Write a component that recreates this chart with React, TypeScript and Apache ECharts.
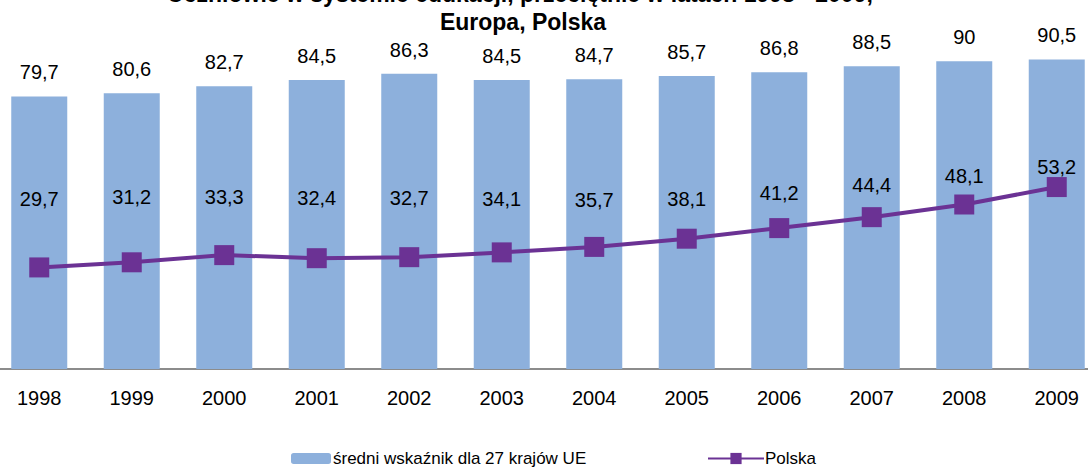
import React, { useEffect, useRef } from "react";
import * as echarts from "echarts";

const years = ["1998", "1999", "2000", "2001", "2002", "2003", "2004", "2005", "2006", "2007", "2008", "2009"];
const euValues = [79.7, 80.6, 82.7, 84.5, 86.3, 84.5, 84.7, 85.7, 86.8, 88.5, 90, 90.5];
const plValues = [29.7, 31.2, 33.3, 32.4, 32.7, 34.1, 35.7, 38.1, 41.2, 44.4, 48.1, 53.2];
const plLabelDistance = [48, 45, 38, 40, 39, 33, 27, 20, 15, 12, 8, 0];
const titleLines = ["Uczniowie w systemie edukacji, przeciętnie w latach 1998 - 2009,", "Europa, Polska"];

const FONT = "'Liberation Sans', Arial, sans-serif";
const fmt = (v: number) => String(v).replace(".", ",");
const OFFSET = 7;

export default function App() {
  const ref = useRef<HTMLDivElement>(null);
  useEffect(() => {
    document.body.style.margin = "0";
    document.body.style.overflow = "hidden";
    const chart = echarts.init(ref.current!, null, { renderer: "svg" });
    chart.setOption({
      animation: false,
      graphic: [
        {
          type: "text",
          x: 520 + OFFSET,
          y: -6,
          style: {
            text: titleLines[0],
            font: "bold 23px 'Liberation Sans', Arial, sans-serif",
            fill: "#000",
            textAlign: "center",
            textVerticalAlign: "middle",
          },
        },
        {
          type: "text",
          x: 523 + OFFSET,
          y: 22,
          style: {
            text: titleLines[1],
            font: "bold 23px 'Liberation Sans', Arial, sans-serif",
            fill: "#000",
            textAlign: "center",
            textVerticalAlign: "middle",
          },
        },
      ],
      legend: [
        {
          data: ["średni wskaźnik dla 27 krajów UE"],
          left: 291 + OFFSET - 5,
          top: 445,
          itemWidth: 40,
          itemHeight: 11,
          itemGap: 4,
          textStyle: { fontFamily: FONT, fontSize: 17, color: "#000", padding: [0, 0, 0, -3] },
        },
        {
          data: ["Polska"],
          left: 707 + OFFSET - 5,
          top: 445,
          itemWidth: 56,
          itemHeight: 14,
          textStyle: { fontFamily: FONT, fontSize: 17, color: "#000", padding: [0, 0, 0, -4] },
        },
      ],
      grid: { left: 0, right: 0, top: 27, bottom: 99 },
      xAxis: {
        type: "category",
        data: years,
        axisTick: { show: false },
        axisLine: { lineStyle: { color: "#8c8c8c", width: 2 } },
        axisLabel: { fontFamily: FONT, fontSize: 20, color: "#000", margin: 19 },
      },
      yAxis: { type: "value", min: 0, max: 100, show: false, splitLine: { show: false } },
      series: [
        {
          name: "średni wskaźnik dla 27 krajów UE",
          type: "bar",
          data: euValues,
          barWidth: 56,
          itemStyle: { color: "#8DB0DC" },
          label: {
            show: true,
            position: "top",
            distance: 14,
            fontFamily: FONT,
            fontSize: 20,
            color: "#000",
            formatter: (p: any) => fmt(p.value),
          },
        },
        {
          name: "Polska",
          type: "line",
          data: plValues.map((v, i) => ({
            value: v,
            label: { distance: plLabelDistance[i] },
          })),
          symbol: "rect",
          symbolSize: 20,
          lineStyle: { color: "#6B3294", width: 4 },
          itemStyle: { color: "#6B3294" },
          label: {
            show: true,
            position: "top",
            fontFamily: FONT,
            fontSize: 20,
            color: "#000",
            formatter: (p: any) => fmt(p.value),
          },
        },
      ],
    });
    return () => chart.dispose();
  }, []);
  return (
    <div style={{ width: 1088, height: 468, overflow: "hidden", position: "relative" }}>
      <div ref={ref} style={{ width: 1110, height: 468, position: "absolute", left: -OFFSET, top: 0 }} />
    </div>
  );
}
